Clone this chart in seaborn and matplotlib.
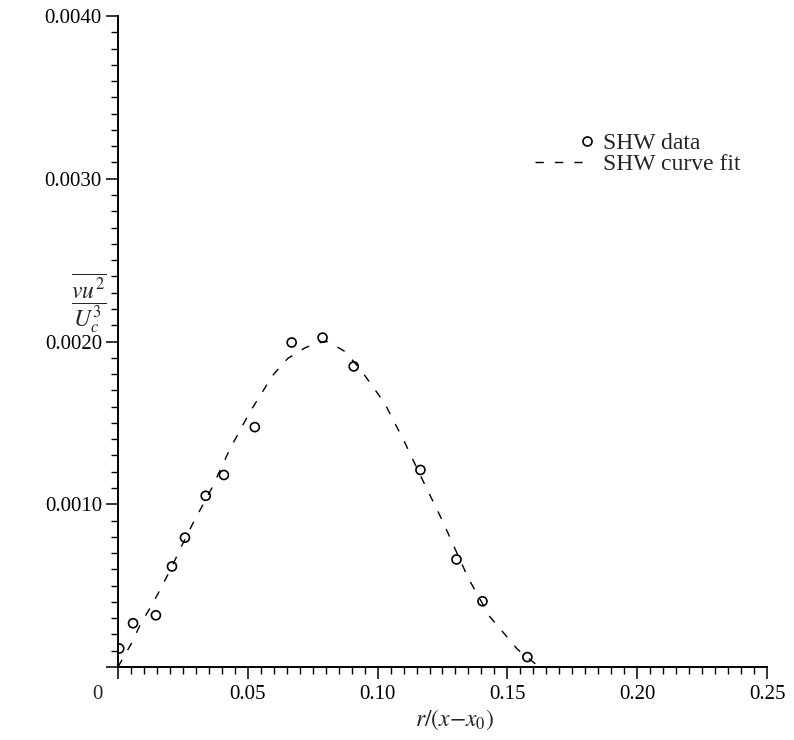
import numpy as np
import pandas as pd
import matplotlib
matplotlib.use("Agg")
import matplotlib.pyplot as plt
from matplotlib.lines import Line2D
from matplotlib.legend_handler import HandlerLine2DCompound
from matplotlib.ticker import FixedLocator, MultipleLocator
import seaborn as sns

# Measured SHW triple-correlation profile
data_r = [0.0005, 0.0058, 0.0146, 0.0208, 0.0258, 0.0338, 0.0408, 0.0527,
          0.0669, 0.0788, 0.0908, 0.1165, 0.1304, 0.1404, 0.1577]
data_vu2 = [0.000114, 0.000269, 0.000318, 0.000618, 0.000795, 0.001052,
            0.001180, 0.001474, 0.001994, 0.002024, 0.001847, 0.001211,
            0.000661, 0.000404, 0.000061]

# Curve fit through the profile
fit_r = [0.0, 0.0015, 0.005, 0.0085, 0.0135, 0.0169, 0.0208, 0.0242, 0.0288,
         0.0362, 0.0431, 0.0508, 0.0596, 0.0654, 0.0719, 0.0765, 0.0808,
         0.0873, 0.0931, 0.1027, 0.1104, 0.1173, 0.1246, 0.1350, 0.1431,
         0.1538, 0.1623, 0.2500]
fit_vu2 = [0.0, 0.000043, 0.000140, 0.000257, 0.000395, 0.000495, 0.000618,
           0.000734, 0.000881, 0.001101, 0.001339, 0.001566, 0.001792,
           0.001896, 0.001960, 0.001990, 0.002000, 0.001940, 0.001835,
           0.001621, 0.001382, 0.001150, 0.000911, 0.000544, 0.000312,
           0.000110, 0.0, 0.0]

x_ticks = [0.0, 0.05, 0.10, 0.15, 0.20, 0.25]
x_labels = ["", "0.05", "0.10", "0.15", "0.20", "0.25"]
y_ticks = [0.0, 0.0010, 0.0020, 0.0030, 0.0040]
y_labels = ["", "0.0010", "0.0020", "0.0030", "0.0040"]

df_data = pd.DataFrame({"r": data_r, "vu2": data_vu2})
df_fit = pd.DataFrame({"r": fit_r, "vu2": fit_vu2})

sns.set_style("white")
plt.rcParams["font.family"] = ["Liberation Serif", "DejaVu Serif"]
plt.rcParams["mathtext.fontset"] = "stix"

fig = plt.figure(figsize=(7.94, 7.40), dpi=100)
ax = fig.add_axes([0.1486, 0.0986, 0.8174, 0.8798])

dash = (0, (6, 8))
sns.lineplot(data=df_fit, x="r", y="vu2", ax=ax, color="black", lw=1.0,
             linestyle=dash, estimator=None, sort=False)
sns.scatterplot(data=df_data, x="r", y="vu2", ax=ax, color="black",
                facecolors="none", edgecolors="black", linewidths=1.2,
                s=42, marker="o", zorder=3)

ax.set_xlim(0, 0.25)
ax.set_ylim(0, 0.004)

for side in ("top", "right"):
    ax.spines[side].set_visible(False)
for side in ("left", "bottom"):
    ax.spines[side].set_linewidth(1.4)
    ax.spines[side].set_color("black")

ax.xaxis.set_major_locator(FixedLocator(x_ticks))
ax.set_xticklabels(x_labels)
ax.xaxis.set_minor_locator(MultipleLocator(0.005))
ax.yaxis.set_major_locator(FixedLocator(y_ticks))
ax.set_yticklabels(y_labels)
ax.yaxis.set_minor_locator(MultipleLocator(0.0001))

ax.tick_params(which="major", direction="out", length=8.6, width=1.1,
               color="black", labelsize=15, labelcolor="black", pad=3)
ax.tick_params(which="minor", direction="out", length=5, width=1.0,
               color="black")
ax.tick_params(axis="x", which="major", pad=4)
ax.tick_params(left=True, bottom=True, which="both")

# origin label, set off to the left of the axis corner
ax.annotate("0", xy=(0, 0), xycoords=("data", "axes fraction"),
            xytext=(-15, -20), textcoords="offset points",
            ha="center", va="center", fontsize=15)

ax.set_xlabel(r"$r/(x{-}x_0)$", fontsize=17, va="center")
ax.xaxis.set_label_coords(0.518, -0.081)
ax.set_ylabel(r"$\dfrac{\overline{vu^2}}{U_c^3}$", fontsize=17,
              rotation=0, ha="center", va="center")
ax.yaxis.set_label_coords(-0.045, 0.5585)


class MarkerRight(HandlerLine2DCompound):
    def get_xdata(self, legend, xdescent, ydescent, width, height, fontsize):
        xdata, _ = super().get_xdata(legend, xdescent, ydescent, width,
                                     height, fontsize)
        return xdata, np.array([-xdescent + width + 0.2 * fontsize])


h_data = Line2D([], [], linestyle="none", marker="o", markersize=6.5,
                markerfacecolor="none", markeredgecolor="black",
                markeredgewidth=1.2)
h_fit = Line2D([], [], color="black", lw=1.0, linestyle=dash)
ax.legend([h_data, h_fit], ["SHW data", "SHW curve fit"],
          handler_map={h_data: MarkerRight(numpoints=1)},
          loc="upper left", bbox_to_anchor=(0.6425, 0.821),
          frameon=False, fontsize=17, borderpad=0, borderaxespad=0,
          handlelength=2.0, handletextpad=0.88, labelspacing=-0.03)

fig.savefig("out.png", dpi=100)
